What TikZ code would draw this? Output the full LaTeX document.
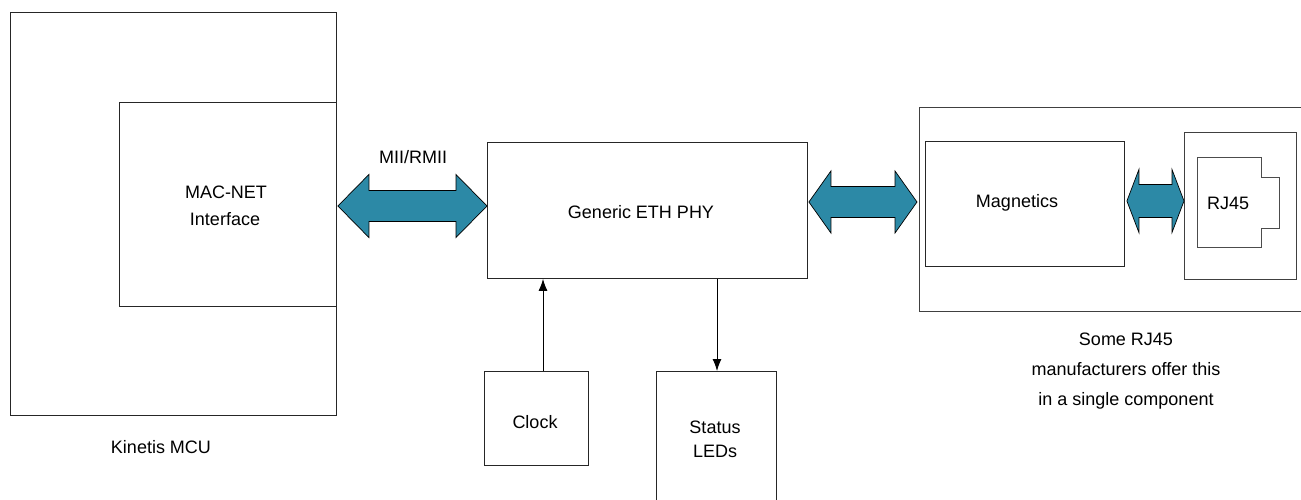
\documentclass[tikz,border=0pt]{standalone}
\usepackage{fontspec}
\setmainfont{Liberation Sans}
\usetikzlibrary{arrows.meta,calc}
\definecolor{busteal}{RGB}{44,137,166}
\newcommand\busarrow[5]{%
  \draw[bus] (#1) -- ($(#1)+(#3,-#4)$) -- ($(#1)+(#3,-#5)$) -- ($(#2)+(-#3,-#5)$)
    -- ($(#2)+(-#3,-#4)$) -- (#2) -- ($(#2)+(-#3,#4)$) -- ($(#2)+(-#3,#5)$)
    -- ($(#1)+(#3,#5)$) -- ($(#1)+(#3,#4)$) -- cycle;}
\begin{document}
\begin{tikzpicture}[x=1pt,y=-1pt,
  box/.style={draw=black!85, line width=0.9pt, anchor=north west, inner sep=0pt},
  lbl/.style={font=\fontsize{18}{22}\selectfont, anchor=base, inner sep=0pt},
  bus/.style={fill=busteal, draw=black, line width=0.7pt, line join=miter},
  sig/.style={draw=black, line width=0.9pt, -{Latex[length=12pt,width=9pt]}}]
\useasboundingbox (0,0) rectangle (1301,500);
\clip (0,0) rectangle (1301,500);
\fill[white] (0,0) rectangle (1301,500);
% boxes
\node[box, minimum width=326, minimum height=403] (mcu) at (10,12) {};
\node[box, minimum width=217, minimum height=204] (mac) at (119,102) {};
\node[box, minimum width=320, minimum height=136] (phy) at (487,142) {};
\node[box, minimum width=104, minimum height=94] (clk) at (484,371) {};
\node[box, minimum width=120, minimum height=160] (leds) at (656,371) {};
\node[box, draw=black!75, minimum width=420, minimum height=204] (comp) at (919,107) {};
\node[box, minimum width=199, minimum height=125] (mag) at (925,141) {};
\node[box, draw=black!75, minimum width=112, minimum height=147] (rjbox) at (1184,132) {};
\draw[draw=black!70, line width=0.9pt] (1197,157) -- (1261,157) -- (1261,177) -- (1279,177)
  -- (1279,228) -- (1261,228) -- (1261,247) -- (1197,247) -- cycle;
% texts
\node[lbl] (tmac1) at (226,198) {MAC-NET};
\node[lbl] (tmac2) at (225,225) {Interface};
\node[lbl] (tmcu) at (161,453) {Kinetis MCU};
\node[lbl] (tmii) at (413,164) {MII/RMII};
\node[lbl] (tphy) at (641,218) {Generic ETH PHY};
\node[lbl] (tmag) at (1017,207) {Magnetics};
\node[lbl] (trj) at (1228,209) {RJ45};
\node[lbl] (tclk) at (535,428) {Clock};
\node[lbl] (tled1) at (715,433) {Status};
\node[lbl] (tled2) at (715,457) {LEDs};
\node[lbl] (tnote1) at (1126,345) {Some RJ45};
\node[lbl] (tnote2) at (1126,375) {manufacturers offer this};
\node[lbl] (tnote3) at (1126,405) {in a single component};
% bus arrows
\coordinate (ya) at (0,206);
\coordinate (yb) at (0,202);
\coordinate (yc) at (0,201);
\coordinate (a1) at ([xshift=1pt]mac.east |- ya);
\coordinate (a2) at (phy.west |- ya);
\coordinate (b1) at ([xshift=1pt]phy.east |- yb);
\coordinate (b2) at ([xshift=-2pt]comp.west |- yb);
\coordinate (c1) at ([xshift=2pt]mag.east |- yc);
\coordinate (c2) at (rjbox.west |- yc);
\busarrow{a1}{a2}{31}{31.5}{15.5}
\busarrow{b1}{b2}{22}{31}{15.5}
\busarrow{c1}{c2}{12}{31.5}{16.5}
% signals
\draw[sig] (clk.north -| 543,0) -- (phy.south -| 543,0);
\draw[sig] (phy.south -| 717,0) -- (leds.north -| 717,0);
\end{tikzpicture}
\end{document}
